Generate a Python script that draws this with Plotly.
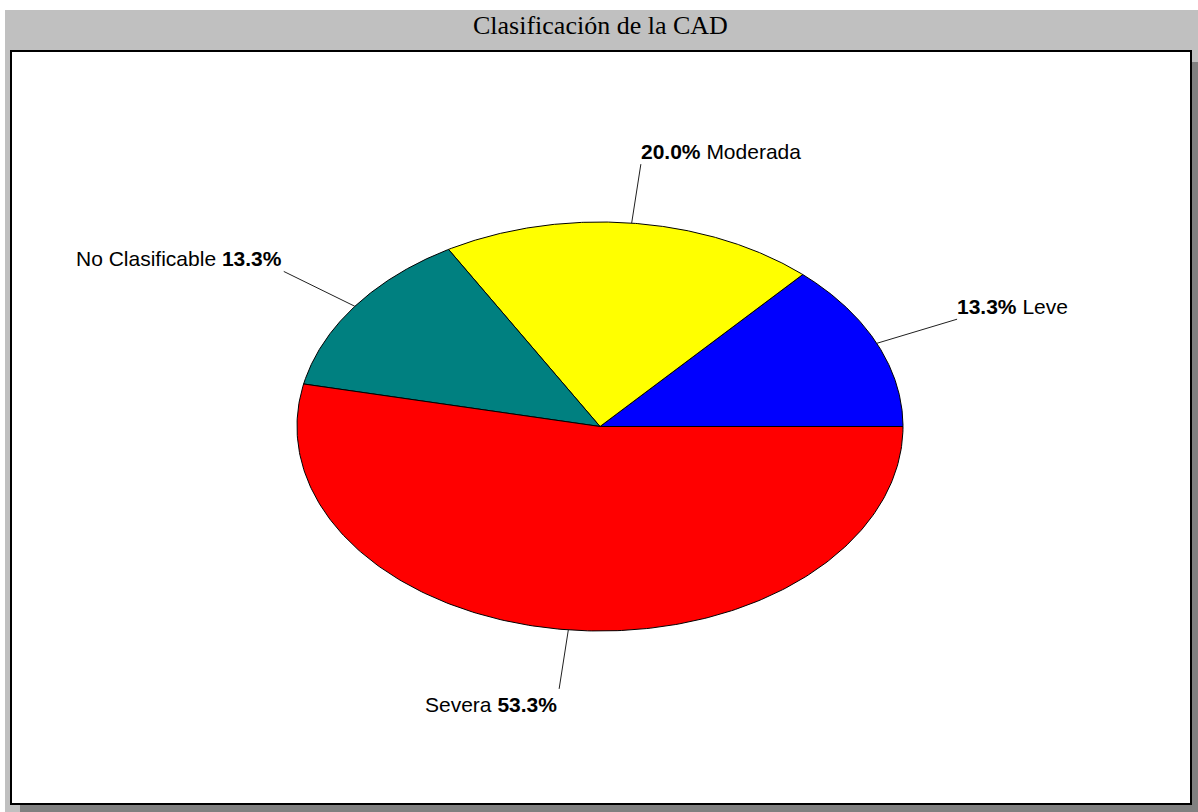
import numpy as np
import plotly.graph_objects as go

# ---- data ----
categories = ["Leve", "Moderada", "No Clasificable", "Severa"]
counts = [2, 3, 2, 8]
colors = ["#0000FF", "#FFFF00", "#008080", "#FF0000"]
title = "Clasificación de la CAD"

# ---- geometry (pixel space) ----
W, H = 1198, 812
cx, cy = 600, 426.5
rx, ry = 303, 204.5
label_r = 1.29

total = sum(counts)
fig = go.Figure()

start = 0.0
for cat, v, col in zip(categories, counts, colors):
    frac = v / total
    sweep = frac * 2 * np.pi
    t = np.linspace(start, start + sweep, 240)
    xs = np.concatenate([[cx], cx + rx * np.cos(t), [cx]])
    ys = np.concatenate([[cy], cy - ry * np.sin(t), [cy]])
    fig.add_trace(go.Scatter(x=xs, y=ys, mode="lines", fill="toself",
                             fillcolor=col, line=dict(color="#000000", width=1),
                             hoverinfo="skip", showlegend=False))
    mid = start + sweep / 2
    x0, y0 = cx + rx * np.cos(mid), cy - ry * np.sin(mid)
    x1, y1 = cx + label_r * rx * np.cos(mid), cy - label_r * ry * np.sin(mid)
    fig.add_trace(go.Scatter(x=[x0, x1], y=[y0, y1], mode="lines",
                             line=dict(color="#202020", width=1),
                             hoverinfo="skip", showlegend=False))
    pct = f"<b>{frac*100:.1f}%</b>"
    right = np.cos(mid) >= 0
    up = np.sin(mid) >= 0
    text = f"{pct} {cat}" if right else f"{cat} {pct}"
    fig.add_annotation(x=x1, y=y1, text=text, showarrow=False,
                       xanchor="left" if right else "right",
                       yanchor="bottom" if up else "top",
                       xshift=-2 if right else 0,
                       yshift=-1 if up else -2,
                       font=dict(family="Liberation Sans, Arial", size=21, color="#000000"))
    start += sweep

shapes = [
    dict(type="rect", x0=5, y0=10, x1=W, y1=H, fillcolor="#C0C0C0",
         line=dict(width=0), layer="below"),
    dict(type="rect", x0=20, y0=62, x1=W, y1=H, fillcolor="#808080",
         line=dict(width=0), layer="below"),
    dict(type="rect", x0=11, y0=51, x1=1191, y1=804, fillcolor="#FFFFFF",
         line=dict(color="#000000", width=2), layer="below"),
]

fig.add_annotation(x=600, y=25, text=title, showarrow=False,
                   xanchor="center", yanchor="middle",
                   font=dict(family="Liberation Serif, Times New Roman", size=26, color="#000000"))

fig.update_layout(
    width=W, height=H,
    margin=dict(l=0, r=0, t=0, b=0),
    paper_bgcolor="#FFFFFF", plot_bgcolor="rgba(0,0,0,0)",
    xaxis=dict(range=[0, W], visible=False, fixedrange=True),
    yaxis=dict(range=[H, 0], visible=False, fixedrange=True),
    shapes=shapes,
    showlegend=False,
)

fig.write_html("out.html")
